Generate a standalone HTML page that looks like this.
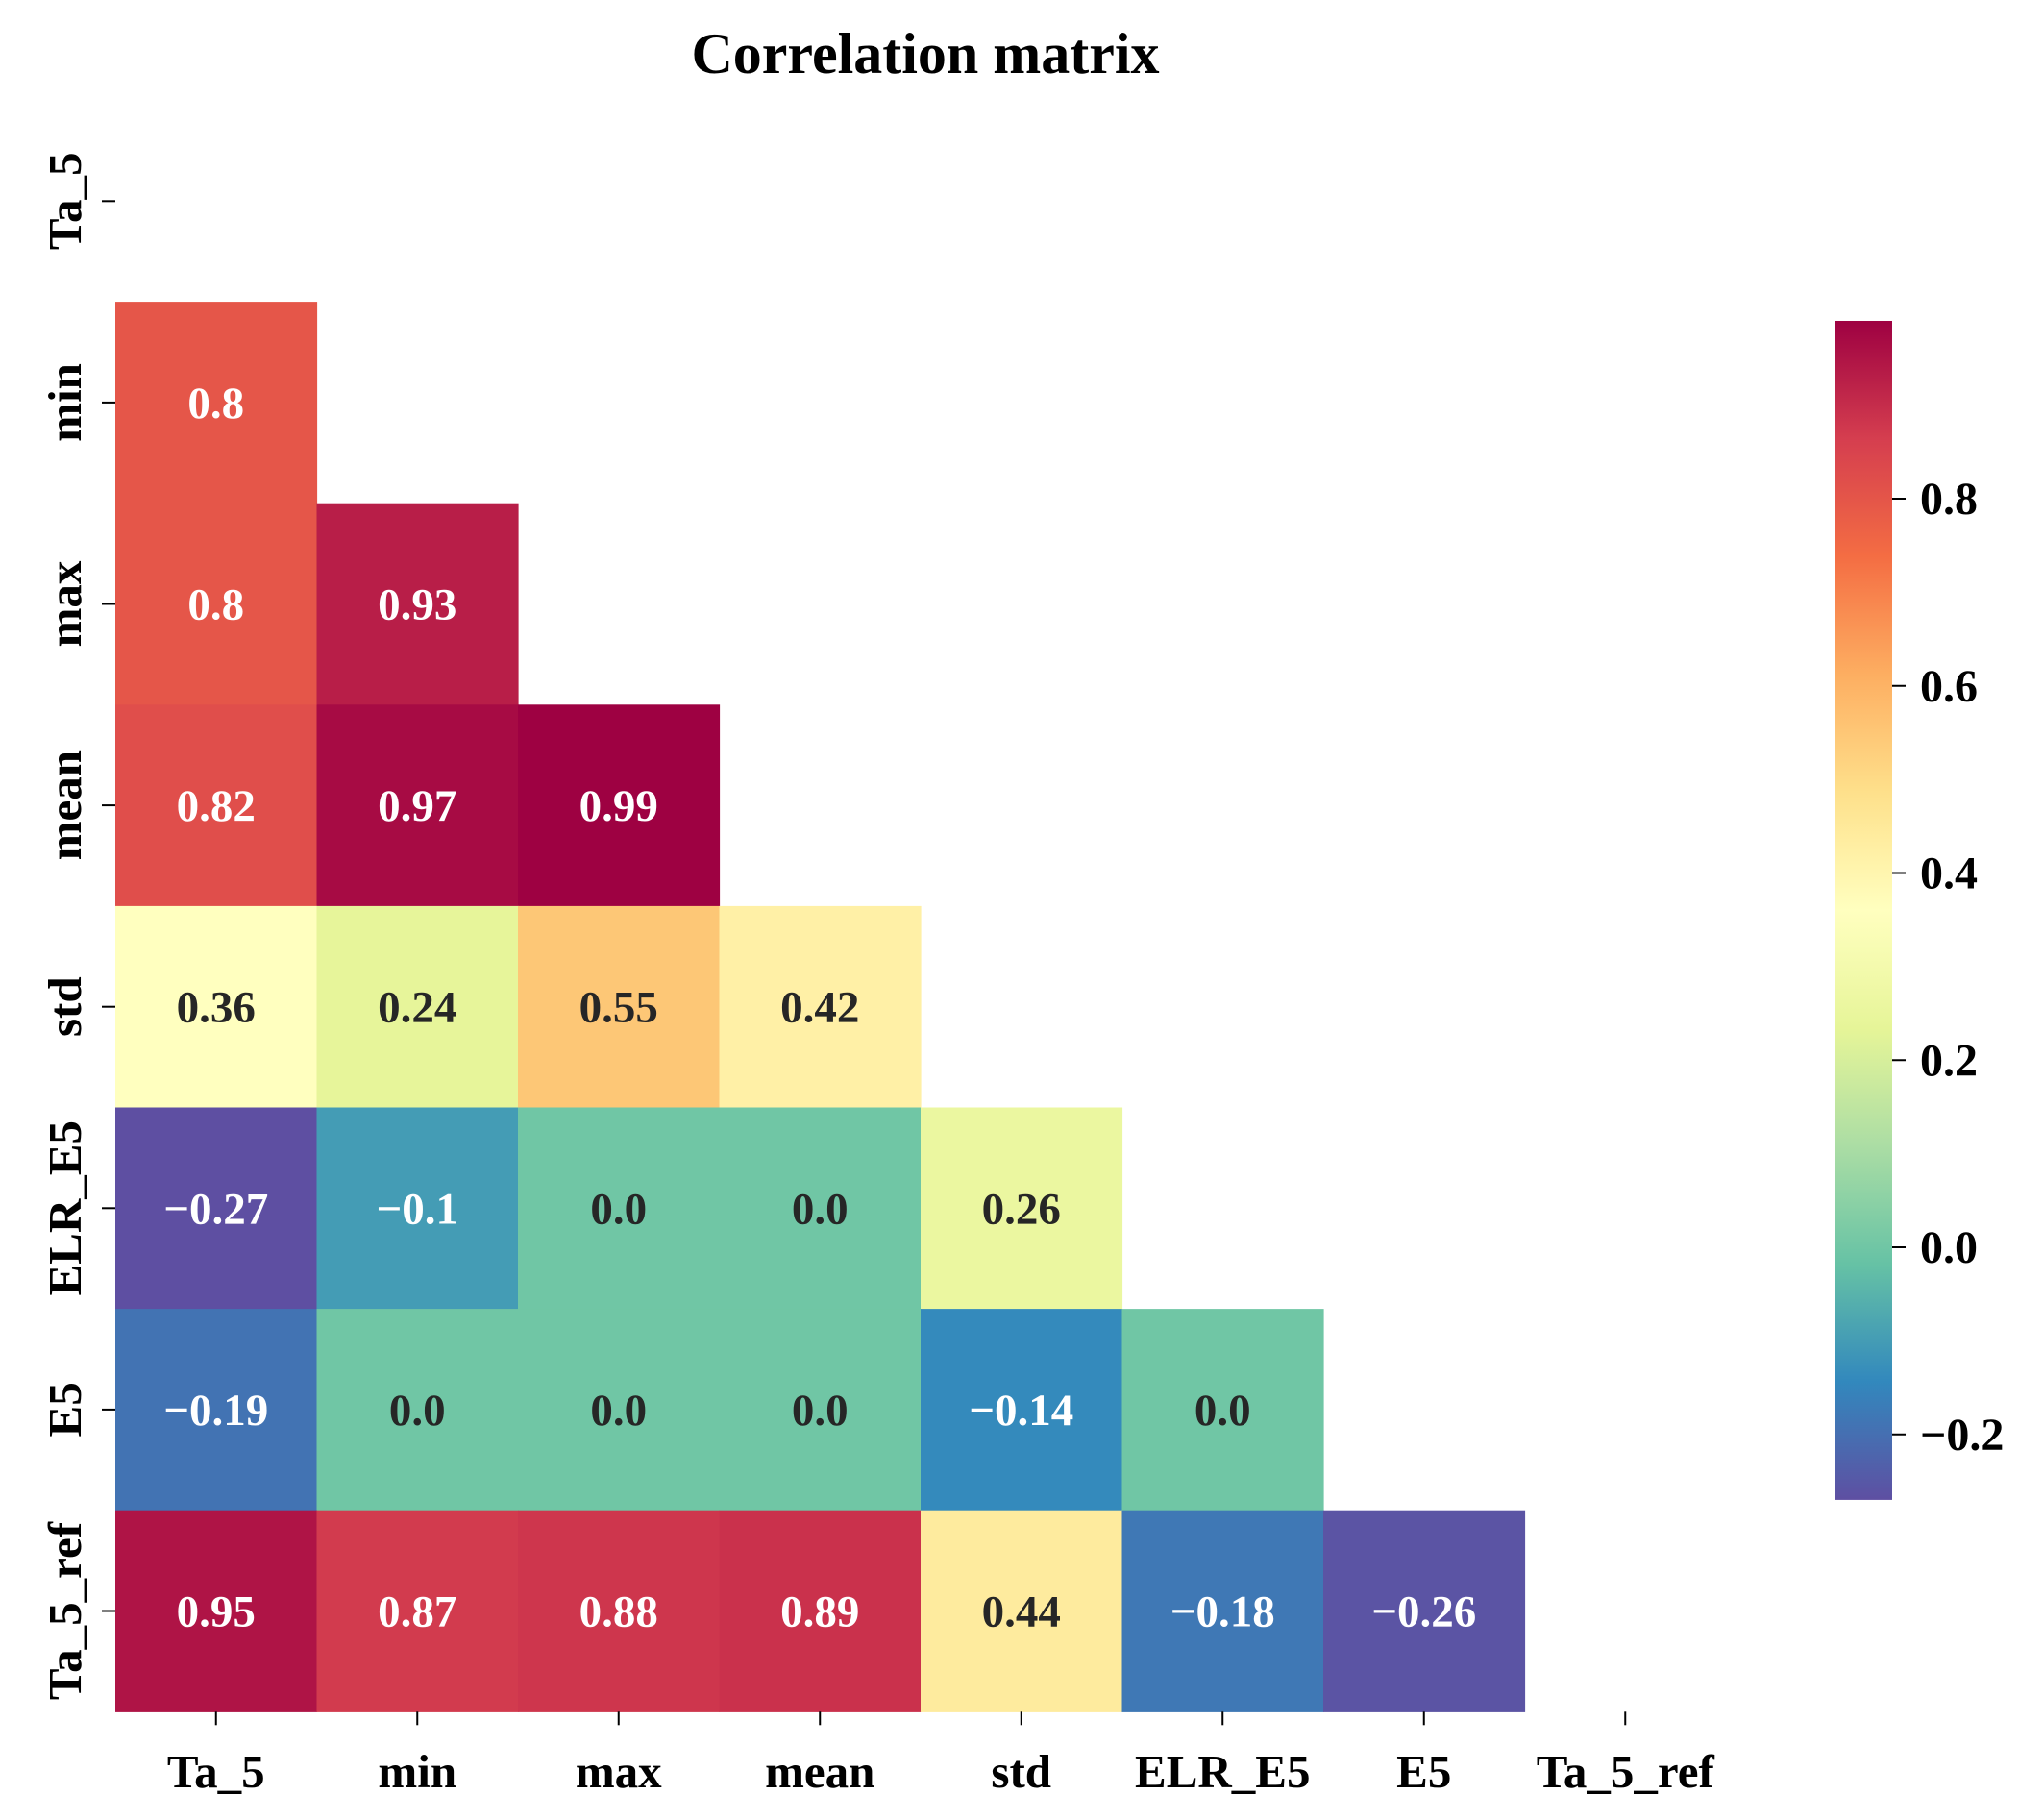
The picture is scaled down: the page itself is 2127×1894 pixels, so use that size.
<!DOCTYPE html>
<html><head><meta charset="utf-8">
<style>
html,body{margin:0;padding:0;background:#fff;}
svg text{font-family:"Liberation Serif",serif;font-weight:bold;}
</style></head>
<body>
<svg id="chart" width="2127" height="1889" viewBox="0 0 2127 1889" xmlns="http://www.w3.org/2000/svg">
<defs><linearGradient id="cbgrad" x1="0" y1="1" x2="0" y2="0"></linearGradient></defs>
<text x="963" y="76" font-size="60" text-anchor="middle" fill="#000">Correlation matrix</text>
<g id="cells"></g><g id="axes"></g><g id="cbar"></g>
</svg>
<script>
const categories = ["Ta_5","min","max","mean","std","ELR_E5","E5","Ta_5_ref"];
const rowMin = [0.8];
const rowMax = [0.8, 0.93];
const rowMean = [0.82, 0.97, 0.99];
const rowStd = [0.36, 0.24, 0.55, 0.42];
const rowELR = [-0.27, -0.1, 0.0, 0.0, 0.26];
const rowE5 = [-0.19, 0.0, 0.0, 0.0, -0.14, 0.0];
const rowRef = [0.95, 0.87, 0.88, 0.89, 0.44, -0.18, -0.26];
const cbTicks = [-0.2, 0.0, 0.2, 0.4, 0.6, 0.8];
const vmin = -0.27, vmax = 0.99;

const rows = [[], rowMin, rowMax, rowMean, rowStd, rowELR, rowE5, rowRef];
const NS = "http://www.w3.org/2000/svg";
const gridLeft = 120, gridTop = 104.5, cw = 209.5, ch = 209.6;
const spectral = ["#9e0142","#d53e4f","#f46d43","#fdae61","#fee08b","#ffffbf","#e6f598","#abdda4","#66c2a5","#3288bd","#5e4fa2"];
function hex(c){return [1,3,5].map(i=>parseInt(c.substr(i,2),16));}
function cmap(v){
  let t = (v - vmin)/(vmax - vmin); t = Math.max(0, Math.min(1, t));
  const p = (1 - t) * (spectral.length - 1);
  const i = Math.min(Math.floor(p), spectral.length - 2), f = p - i;
  const a = hex(spectral[i]), b = hex(spectral[i+1]);
  const c = a.map((x,k)=>Math.round(x + (b[k]-x)*f));
  return {css:`rgb(${c[0]},${c[1]},${c[2]})`, lum:(0.299*c[0]+0.587*c[1]+0.114*c[2])/255};
}
function xPos(j){return gridLeft + j*cw;}
function yPos(i){return gridTop + i*ch;}
function cbY(v){return 1298 - (v/0.8)*(1298-519);}
function fmt(v){ let s = (Math.round(v*100)/100).toString(); if(!s.includes('.')) s += '.0'; return s.replace('-', '\u2212'); }
function mk(tag, attrs, parent){ const e = document.createElementNS(NS, tag); for (const k in attrs) e.setAttribute(k, attrs[k]); parent.appendChild(e); return e; }

const cells = document.getElementById('cells');
rows.forEach((row, i) => {
  row.forEach((v, j) => {
    const c = cmap(v);
    const r = mk('rect', {x:xPos(j), y:yPos(i), width:cw+0.6, height:ch+0.6, fill:c.css}, cells);
    
    
    const t = mk('text', {x:xPos(j)+cw/2, y:yPos(i)+ch/2+16, 'font-size':47, 'text-anchor':'middle', fill: c.lum > 0.55 ? '#262626' : '#ffffff'}, cells);
    t.textContent = fmt(v);
    
    
  });
});

const axes = document.getElementById('axes');
const gridBottom = yPos(categories.length);
categories.forEach((lab, k) => {
  const xc = xPos(k) + cw/2, yc = yPos(k) + ch/2;
  const tx = mk('line', {x1:xc, x2:xc, y1:gridBottom, y2:gridBottom+14, stroke:'#000', 'stroke-width':2}, axes);
  
  
  const lx = mk('text', {x:xc, y:1860, 'font-size':49, 'text-anchor':'middle', fill:'#000'}, axes);
  lx.textContent = lab;
  
  
  const ty = mk('line', {x1:106, x2:120, y1:yc, y2:yc, stroke:'#000', 'stroke-width':2}, axes);
  
  
  const ly = mk('text', {x:0, y:0, 'font-size':49, 'text-anchor':'middle', fill:'#000', transform:`translate(84,${yc}) rotate(-90)`}, axes);
  ly.textContent = lab;
  
  
});

const grad = document.getElementById('cbgrad');
for (let s = 0; s <= 20; s++) {
  const v = vmin + (vmax - vmin) * s / 20;
  mk('stop', {offset:(s/20), 'stop-color':cmap(v).css}, grad);
}
const cb = document.getElementById('cbar');
const cbTop = cbY(vmax), cbBot = cbY(vmin);
const bar = mk('rect', {x:1909, y:cbTop, width:60, height:cbBot-cbTop, fill:'url(#cbgrad)'}, cb);


cbTicks.forEach(v => {
  const y = cbY(v);
  const l = mk('line', {x1:1969, x2:1983, y1:y, y2:y, stroke:'#000', 'stroke-width':2}, cb);
  
  
  const t = mk('text', {x:1998, y:y+16, 'font-size':48, fill:'#000'}, cb);
  t.textContent = v.toFixed(1).replace('-', '\u2212');
  
  
});
</script>
</body></html>
